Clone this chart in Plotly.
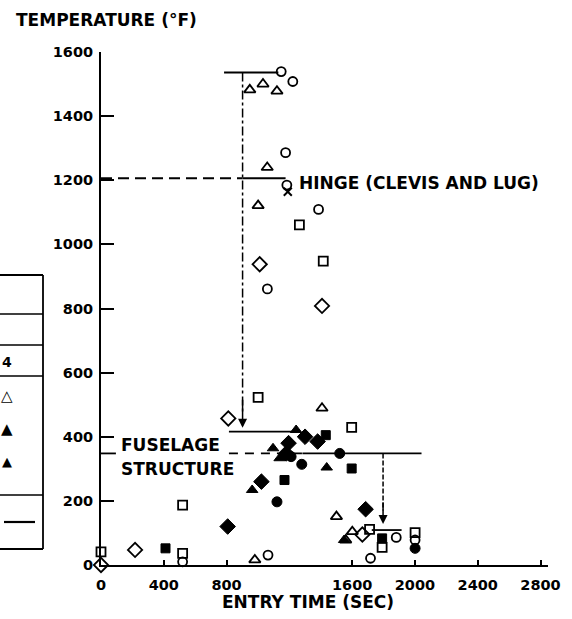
import plotly.graph_objects as go

# ---------------- data (entry time in sec, temperature in °F) ----------------
open_circle_x = [1148, 1222, 1176, 1184, 1386, 1060, 1881, 1717, 1064, 520, 2001]
open_circle_y = [1539, 1508, 1286, 1185, 1109, 861, 86, 21, 31, 10, 78]

open_tri_x = [948, 1032, 1121, 1059, 1001, 1408, 1500, 1559, 1601, 980]
open_tri_y = [1482, 1500, 1478, 1240, 1121, 489, 151, 78, 104, 16]

open_sq_x = [1264, 1416, 1001, 1597, 520, 520, 0, 1711, 1791, 2001]
open_sq_y = [1061, 948, 523, 429, 187, 36, 41, 111, 55, 101]

open_dia_x = [1011, 1408, 811, 217, 0, 1665]
open_dia_y = [938, 808, 457, 47, 0, 95]

cross_x = [1190]
cross_y = [1164]

fill_tri_x = [1243, 1096, 1138, 1438, 963, 1549]
fill_tri_y = [421, 364, 333, 304, 234, 78]

fill_dia_x = [1300, 1380, 1195, 1180, 1022, 807, 1686]
fill_dia_y = [400, 385, 380, 348, 260, 120, 174]

fill_sq_x = [1432, 1169, 1597, 411, 1791]
fill_sq_y = [405, 265, 301, 52, 83]

fill_circ_x = [1211, 1279, 1521, 1121, 2001]
fill_circ_y = [338, 314, 348, 197, 52]

x_tick_vals = [0, 400, 800, 1600, 2000, 2400, 2800]
y_tick_vals = [0, 200, 400, 600, 800, 1000, 1200, 1400, 1600]

# reference temperature levels / times
hinge_peak = 1536
hinge_level = 1206
hinge_drop_time = 902
fuselage_peak = 416
fuselage_level = 348
final_level = 109
fuselage_drop_time = 1797

# ---------------- geometry (screen pixels; page body margin removed) ----------------
W, H = 572, 619
L, R, T, B = 101, 548, 52, 565
XMAX = 2800 * (R - L) / (540.5 - L)


def px(x):
    return (x - L) / (R - L)


def py(y):
    return (B - y) / (B - T)


FONT = "DejaVu Sans"
BLACK = "black"

fig = go.Figure()


def add(xs, ys, symbol, size=9, lw=1.8):
    fig.add_trace(go.Scatter(
        x=xs, y=ys, mode="markers", cliponaxis=False, showlegend=False,
        marker=dict(symbol=symbol, size=size, color=BLACK,
                    line=dict(color=BLACK, width=lw)),
    ))


add(open_circle_x, open_circle_y, "circle-open", 9)
add(open_tri_x, open_tri_y, "triangle-up-open", 10)
add(open_sq_x, open_sq_y, "square-open", 9)
add(open_dia_x, open_dia_y, "diamond-open", 11)
add(cross_x, cross_y, "x-thin-open", 8, 2)
add(fill_tri_x, fill_tri_y, "triangle-up", 10, 1)
add(fill_dia_x, fill_dia_y, "diamond", 12, 1)
add(fill_sq_x, fill_sq_y, "square", 9, 1)
add(fill_circ_x, fill_circ_y, "circle", 10, 1)

shapes = []


def seg(x0, y0, x1, y1, dash="solid", w=1.8, ref="data"):
    d = dict(type="line", x0=x0, y0=y0, x1=x1, y1=y1,
             line=dict(color=BLACK, width=w, dash=dash))
    if ref == "data":
        d.update(xref="x", yref="y")
    else:
        d.update(xref="paper", yref="paper")
    shapes.append(d)


# hinge lines
seg(784, hinge_peak, 1130, hinge_peak)
seg(hinge_drop_time, hinge_peak, hinge_drop_time, 470, dash="dashdot", w=1.5)
seg(0, hinge_level, hinge_drop_time, hinge_level, dash="11px,6px", w=2)
seg(hinge_drop_time, hinge_level, 1176, hinge_level, w=2)
# fuselage lines
seg(815, fuselage_peak, 1250, fuselage_peak)
seg(0, fuselage_level, 95, fuselage_level, w=1.8)
seg(815, fuselage_level, 1283, fuselage_level, dash="9px,7px", w=1.8)
seg(1283, fuselage_level, 2042, fuselage_level)
seg(fuselage_drop_time, fuselage_level, fuselage_drop_time, 170, dash="5px,2px", w=1.5)
seg(1725, final_level, 1915, final_level)

# legend table (left, partially cut off)
box_l, box_r = 0, 43
seg(px(box_l), py(275), px(box_r), py(275), ref="paper", w=1.8)
seg(px(box_r), py(275), px(box_r), py(549), ref="paper", w=1.8)
seg(px(box_l), py(549), px(box_r), py(549), ref="paper", w=1.8)
for yy in [314, 345, 376, 495]:
    seg(px(box_l), py(yy), px(box_r), py(yy), ref="paper", w=1.5)
seg(px(4), py(522), px(35), py(522), ref="paper", w=2.2)

annotations = []


def text(t, x, y, size=17, xanchor="left"):
    annotations.append(dict(
        text=t, x=px(x), y=py(y), xref="paper", yref="paper",
        xanchor=xanchor, yanchor="middle", showarrow=False,
        font=dict(family=FONT, size=size, color=BLACK, weight="bold"),
    ))


text("TEMPERATURE (°F)", 14, 20)
text("HINGE (CLEVIS AND LUG)", 297, 183)
text("FUSELAGE", 119, 445)
text("STRUCTURE", 119, 469)
text("ENTRY TIME (SEC)", 308, 602, xanchor="center")
text("4", 0, 362, size=14)
text("△", 7, 396, size=15, xanchor="center")
text("▲", 7, 429, size=15, xanchor="center")
text("▲", 7, 461, size=13, xanchor="center")

# arrows
annotations.append(dict(x=hinge_drop_time, y=428, ax=hinge_drop_time, ay=520,
                        xref="x", yref="y", axref="x", ayref="y", text="",
                        showarrow=True, arrowhead=2, arrowsize=1.2, arrowwidth=1.5,
                        arrowcolor=BLACK))
annotations.append(dict(x=fuselage_drop_time, y=128, ax=fuselage_drop_time, ay=200,
                        xref="x", yref="y", axref="x", ayref="y", text="",
                        showarrow=True, arrowhead=2, arrowsize=1.2, arrowwidth=1.5,
                        arrowcolor=BLACK))

tickfont = dict(family=FONT, size=14.5, color=BLACK, weight="bold")

fig.update_layout(
    width=W, height=H,
    margin=dict(l=L, r=W - R, t=T, b=H - B, pad=0),
    paper_bgcolor="white", plot_bgcolor="white",
    shapes=shapes, annotations=annotations,
    showlegend=False,
    xaxis=dict(range=[0, XMAX], showgrid=False, zeroline=False,
               showline=True, linecolor=BLACK, linewidth=2,
               tickvals=x_tick_vals, ticktext=[str(v) for v in x_tick_vals],
               ticks="inside", ticklen=5, tickwidth=1.5, tickcolor=BLACK,
               tickfont=tickfont, ticklabelstandoff=6),
    yaxis=dict(range=[0, 1600], showgrid=False, zeroline=False,
               showline=True, linecolor=BLACK, linewidth=2,
               tickvals=y_tick_vals, ticktext=[str(v) for v in y_tick_vals],
               ticks="inside", ticklen=13, tickwidth=2, tickcolor=BLACK,
               tickfont=tickfont, ticklabelstandoff=3),
)

fig.write_html(
    "out.html",
    config={"displayModeBar": False},
    post_script="document.body.style.margin='0';document.body.style.overflow='hidden';",
)
